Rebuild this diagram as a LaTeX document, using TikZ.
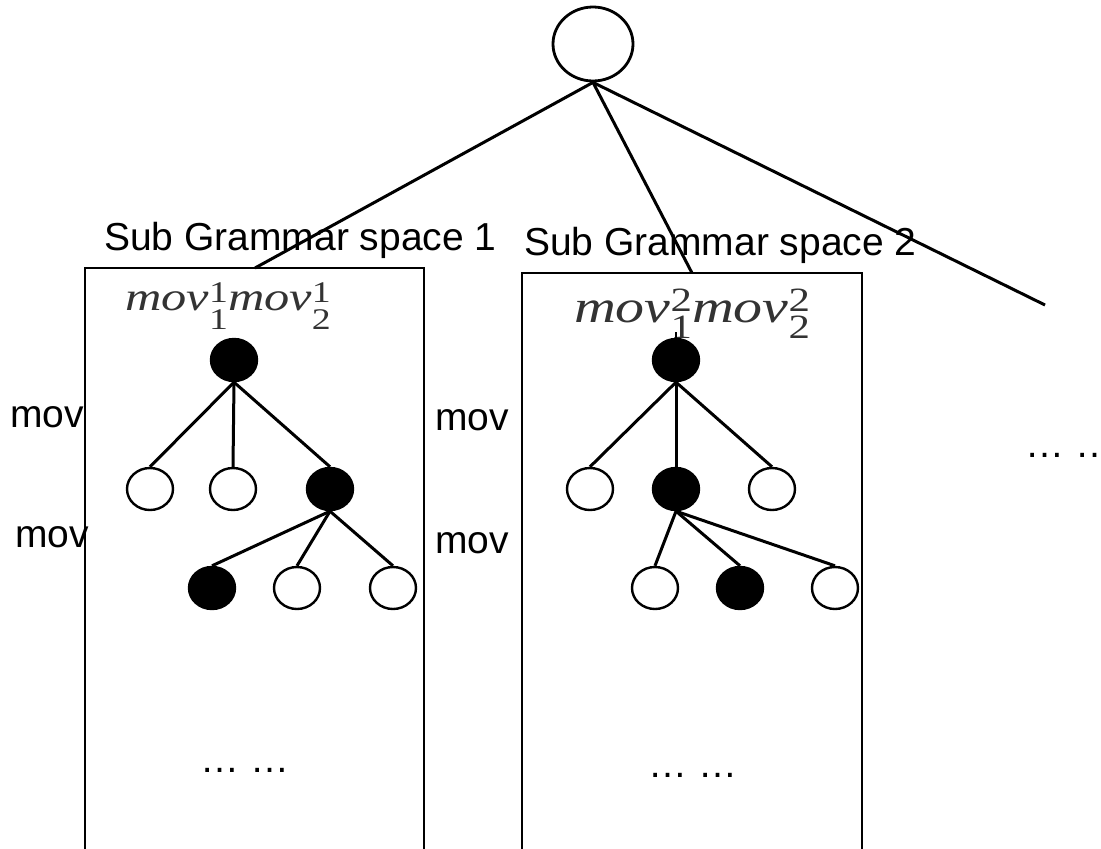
\documentclass[tikz,border=0pt]{standalone}
\usepackage{fontspec}
\setmainfont{Liberation Serif}
\setsansfont{Liberation Sans}
\usetikzlibrary{shapes.geometric}
\newcommand\movlab[5]{% size, script size, raise up, raise down, superscript
  \fontsize{#1}{#1}\selectfont\itshape mov\rlap{\raisebox{#3}{\fontsize{#2}{#2}\selectfont\upshape #5}}\raisebox{-#4}{\fontsize{#2}{#2}\selectfont\upshape 1}%
  \itshape mov\rlap{\raisebox{#3}{\fontsize{#2}{#2}\selectfont\upshape #5}}\raisebox{-#4}{\fontsize{#2}{#2}\selectfont\upshape 2}}
\tikzset{
  tn/.style={ellipse,draw,line width=2.4pt,minimum width=46pt,minimum height=42pt,inner sep=0pt},
  fn/.style={tn,fill=black},
  on/.style={tn,fill=white},
  edge/.style={line width=3pt},
  boxline/.style={line width=1.8pt},
  lab/.style={font=\sffamily\fontsize{39}{42}\selectfont,anchor=base west,inner sep=0pt},
}
\begin{document}
\begin{tikzpicture}[x=1pt,y=-1pt]
\useasboundingbox (0,0) rectangle (1101,849);
% top circle
\node[ellipse,draw,line width=2.8pt,minimum width=80pt,minimum height=74pt,inner sep=0pt] (top) at (593,44) {};
\coordinate (b1t) at (255,268);
\coordinate (b2t) at (692,273);
\coordinate (c3) at (1045,305);
% boxes
\draw[boxline] (85,849) -- (85,268) -- (424,268) -- (424,849);
\draw[boxline] (522,849) -- (522,273) -- (862,273) -- (862,849);
\draw[edge] (top.south) -- (b1t);
\draw[edge] (top.south) -- (b2t);
\draw[edge] (top.south) -- (c3);
% labels
\node[lab] (s1) at (104,250) {Sub Grammar space 1};
\node[lab] (s2) at (524,255) {Sub Grammar space 2};
\node[lab] (m1) at (10,427) {mov};
\node[lab] (m2) at (15,547) {mov};
\node[lab] (m3) at (435,430) {mov};
\node[lab] (m4) at (435,553) {mov};
\node[lab] (d1) at (200,772) {… …};
\node[lab] (d2) at (648,777) {… …};
\node[lab] (d3) at (1025,457) {… …};
% formula labels
\node[anchor=base,inner sep=0pt,text=black!80] (L1) at (228,310)
  {\scalebox{1.26}[1]{\movlab{40}{30}{8pt}{19pt}{1}}};
\node[anchor=base,inner sep=0pt,text=black!80] (L2) at (692,322)
  {\scalebox{1.26}[1]{\movlab{46}{34}{11pt}{16pt}{2}}};
% tree 1
\node[fn] (r1) at (234,360) {};
\node[on] (a1) at (150,489) {};
\node[on] (a2) at (233,489) {};
\node[fn] (a3) at (330,489) {};
\node[fn] (g1) at (212,588) {};
\node[on] (g2) at (297,588) {};
\node[on] (g3) at (393,588) {};
\draw[edge] (r1.south) -- (a1.north);
\draw[edge] (r1.south) -- (a2.north);
\draw[edge] (r1.south) -- (a3.north);
\draw[edge] (a3.south) -- (g1.north);
\draw[edge] (a3.south) -- (g2.north);
\draw[edge] (a3.south) -- (g3.north);
% tree 2
\node[fn] (r2) at (676,360) {};
\node[on] (b1) at (590,489) {};
\node[fn] (b2) at (676,489) {};
\node[on] (b3) at (772,489) {};
\node[on] (h1) at (655,588) {};
\node[fn] (h2) at (740,588) {};
\node[on] (h3) at (835,588) {};
\coordinate (stem) at (676,332);
\draw[line width=1.4pt] (stem) -- (r2.north);
\draw[edge] (r2.south) -- (b1.north);
\draw[edge] (r2.south) -- (b2.north);
\draw[edge] (r2.south) -- (b3.north);
\draw[edge] (b2.south) -- (h1.north);
\draw[edge] (b2.south) -- (h2.north);
\draw[edge] (b2.south) -- (h3.north);
\end{tikzpicture}
\end{document}
